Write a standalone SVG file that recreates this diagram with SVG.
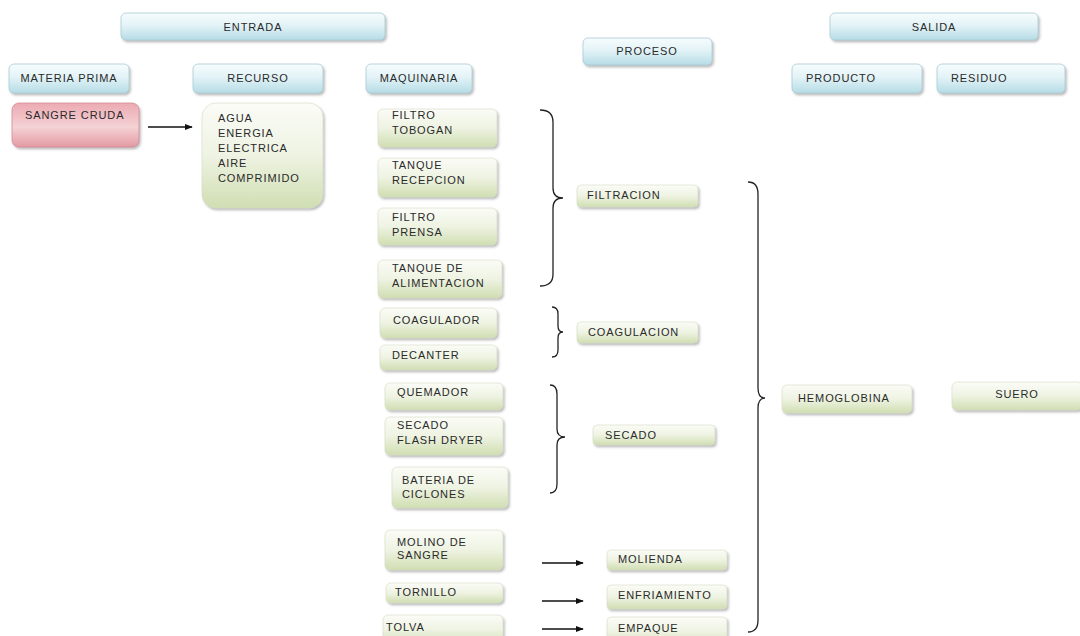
<svg xmlns="http://www.w3.org/2000/svg" width="1080" height="636" viewBox="0 0 1080 636">
  <defs>
    <linearGradient id="gBlue" x1="0" y1="0" x2="0" y2="1">
      <stop offset="0" stop-color="#f7fcfd"/>
      <stop offset="0.45" stop-color="#e3f3f7"/>
      <stop offset="1" stop-color="#b6dce6"/>
    </linearGradient>
    <linearGradient id="gGreen" x1="0" y1="0" x2="0" y2="1">
      <stop offset="0" stop-color="#fbfcf7"/>
      <stop offset="0.5" stop-color="#eef3e2"/>
      <stop offset="1" stop-color="#d0deb2"/>
    </linearGradient>
    <linearGradient id="gPink" x1="0" y1="0" x2="0" y2="1">
      <stop offset="0" stop-color="#ecaab2"/>
      <stop offset="0.55" stop-color="#f4d2d5"/>
      <stop offset="1" stop-color="#e39aa3"/>
    </linearGradient>
    <filter id="shadow" x="-10%" y="-20%" width="125%" height="150%">
      <feDropShadow dx="1.5" dy="2" stdDeviation="1.3" flood-color="#6b6b6b" flood-opacity="0.45"/>
    </filter>
    <marker id="arrow" viewBox="0 0 10 10" refX="9" refY="5" markerWidth="8" markerHeight="8" markerUnits="userSpaceOnUse" orient="auto">
      <path d="M0,1 L10,5 L0,9 Z" fill="#111"/>
    </marker>
  </defs>
  <style>
    text { font-family: "Liberation Sans", Arial, sans-serif; font-size: 11px; letter-spacing: 0.9px; fill: #2a2a2a; }
    .c { text-anchor: middle; }
    .hdr rect { fill: url(#gBlue); stroke: #a8ccd5; stroke-width: 0.8; filter: url(#shadow); }
    .grn rect { fill: url(#gGreen); stroke: #d3dcc2; stroke-width: 0.6; filter: url(#shadow); }
    .pnk rect { fill: url(#gPink); stroke: #d48a94; stroke-width: 0.8; filter: url(#shadow); }
    .brace { fill: none; stroke: #222; stroke-width: 1.3; }
    .arr { fill: none; stroke: #111; stroke-width: 1.3; marker-end: url(#arrow); }
  </style>
  <rect width="1080" height="636" fill="#ffffff"/>

  <!-- column headers -->
  <g id="entrada" class="hdr"><rect x="121" y="13" width="264" height="27" rx="5"/><text class="c" x="253" y="31">ENTRADA</text></g>
  <g id="materia-prima" class="hdr"><rect x="9" y="64" width="120" height="29" rx="5"/><text class="c" x="69" y="82">MATERIA PRIMA</text></g>
  <g id="recurso" class="hdr"><rect x="193" y="64" width="130" height="29" rx="5"/><text class="c" x="258" y="82">RECURSO</text></g>
  <g id="maquinaria" class="hdr"><rect x="366" y="64" width="106" height="29" rx="5"/><text class="c" x="419" y="82">MAQUINARIA</text></g>
  <g id="proceso" class="hdr"><rect x="583" y="38" width="129" height="27" rx="5"/><text class="c" x="647" y="55">PROCESO</text></g>
  <g id="salida" class="hdr"><rect x="830" y="13" width="208" height="27" rx="5"/><text class="c" x="934" y="31">SALIDA</text></g>
  <g id="producto" class="hdr"><rect x="792" y="64" width="130" height="29" rx="5"/><text x="806" y="82">PRODUCTO</text></g>
  <g id="residuo" class="hdr"><rect x="937" y="64" width="128" height="29" rx="5"/><text x="951" y="82">RESIDUO</text></g>

  <!-- raw material and resources -->
  <g id="sangre-cruda" class="pnk"><rect x="12" y="103" width="127" height="44" rx="7"/><text x="25" y="119">SANGRE CRUDA</text></g>
  <g id="recursos" class="grn"><rect x="202" y="103" width="121" height="105" rx="14"/>
    <text x="218" y="122">AGUA</text><text x="218" y="137">ENERGIA</text><text x="218" y="152">ELECTRICA</text><text x="218" y="167">AIRE</text><text x="218" y="182">COMPRIMIDO</text>
  </g>

  <!-- machinery -->
  <g id="filtro-tobogan" class="grn"><rect x="378" y="109" width="119" height="38" rx="5"/><text x="392" y="119">FILTRO</text><text x="392" y="134">TOBOGAN</text></g>
  <g id="tanque-recepcion" class="grn"><rect x="378" y="158" width="119" height="39" rx="5"/><text x="392" y="169">TANQUE</text><text x="392" y="184">RECEPCION</text></g>
  <g id="filtro-prensa" class="grn"><rect x="378" y="208" width="119" height="37" rx="5"/><text x="392" y="221">FILTRO</text><text x="392" y="236">PRENSA</text></g>
  <g id="tanque-alimentacion" class="grn"><rect x="378" y="260" width="124" height="38" rx="5"/><text x="392" y="272">TANQUE DE</text><text x="392" y="287">ALIMENTACION</text></g>
  <g id="coagulador" class="grn"><rect x="380" y="308" width="117" height="30" rx="5"/><text x="393" y="324">COAGULADOR</text></g>
  <g id="decanter" class="grn"><rect x="380" y="345" width="117" height="25" rx="5"/><text x="392" y="359">DECANTER</text></g>
  <g id="quemador" class="grn"><rect x="385" y="383" width="118" height="27" rx="5"/><text x="397" y="396">QUEMADOR</text></g>
  <g id="secado-flash-dryer" class="grn"><rect x="385" y="417" width="118" height="38" rx="5"/><text x="397" y="429">SECADO</text><text x="397" y="444">FLASH DRYER</text></g>
  <g id="bateria-ciclones" class="grn"><rect x="392" y="467" width="116" height="41" rx="5"/><text x="402" y="484">BATERIA DE</text><text x="402" y="498">CICLONES</text></g>
  <g id="molino-sangre" class="grn"><rect x="385" y="530" width="118" height="40" rx="5"/><text x="397" y="546">MOLINO DE</text><text x="397" y="559">SANGRE</text></g>
  <g id="tornillo" class="grn"><rect x="386" y="583" width="117" height="20" rx="5"/><text x="395" y="596">TORNILLO</text></g>
  <g id="tolva" class="grn"><rect x="383" y="615" width="120" height="30" rx="5"/><text x="386" y="631">TOLVA</text></g>

  <!-- process steps -->
  <g id="filtracion" class="grn"><rect x="577" y="185" width="121" height="22" rx="4"/><text x="587" y="199">FILTRACION</text></g>
  <g id="coagulacion" class="grn"><rect x="577" y="322" width="121" height="21" rx="4"/><text x="588" y="336">COAGULACION</text></g>
  <g id="secado" class="grn"><rect x="593" y="425" width="122" height="20" rx="4"/><text x="605" y="439">SECADO</text></g>
  <g id="molienda" class="grn"><rect x="607" y="550" width="120" height="20" rx="4"/><text x="618" y="563">MOLIENDA</text></g>
  <g id="enfriamiento" class="grn"><rect x="607" y="585" width="120" height="24" rx="4"/><text x="618" y="599">ENFRIAMIENTO</text></g>
  <g id="empaque" class="grn"><rect x="607" y="617" width="120" height="30" rx="4"/><text x="618" y="632">EMPAQUE</text></g>

  <!-- outputs -->
  <g id="hemoglobina" class="grn"><rect x="782" y="385" width="130" height="28" rx="5"/><text x="798" y="402">HEMOGLOBINA</text></g>
  <g id="suero" class="grn"><rect x="952" y="382" width="130" height="28" rx="5"/><text class="c" x="1017" y="398">SUERO</text></g>

  <!-- connectors: grouping braces and arrows -->
  <g id="connectors">
    <path class="brace" d="M540,110 Q553,110 553,122 L553,188 Q553,198 563,198 Q553,198 553,208 L553,274 Q553,286 540,286"/>
    <path class="brace" d="M552,307 Q558,307 558,314 L558,326 Q558,332 563,332 Q558,332 558,338 L558,350 Q558,357 552,357"/>
    <path class="brace" d="M550,385 Q557,385 557,394 L557,429 Q557,437 565,437 Q557,437 557,445 L557,484 Q557,493 550,493"/>
    <path class="brace" d="M748,182 Q758,182 758,194 L758,388 Q758,398 765,398 Q758,398 758,408 L758,620 Q758,632 748,632"/>
    <line class="arr" x1="148" y1="127" x2="192" y2="127"/>
    <line class="arr" x1="542" y1="563" x2="583" y2="563"/>
    <line class="arr" x1="542" y1="601" x2="583" y2="601"/>
    <line class="arr" x1="542" y1="629" x2="583" y2="629"/>
  </g>
</svg>
